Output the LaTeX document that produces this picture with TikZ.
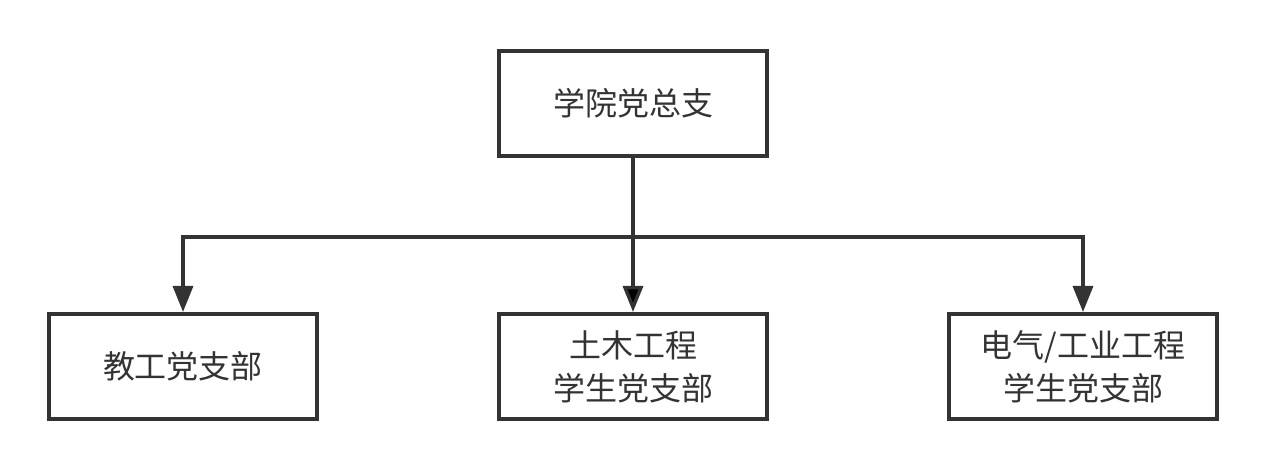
\documentclass[tikz,border=0pt]{standalone}
\usepackage{fontspec}
\newfontfamily\cjk{Noto Sans CJK SC}
\usepackage{tikz}
\usetikzlibrary{arrows.meta,positioning}
\definecolor{ink}{HTML}{333333}

\begin{document}
\begin{tikzpicture}[x=0.5pt,y=-0.5pt,node distance=131.5pt,on grid,
    unit/.style={draw=ink,line width=2pt,text=ink,minimum width=134pt,minimum height=52.5pt,
        align=center,font=\cjk\fontsize{16}{21.5}\selectfont},
    link/.style={draw=ink,line width=1.7pt,-{Triangle[length=13pt,width=10pt]}}]
            \useasboundingbox (0,0) rectangle (1266,470);
            \node[unit] (zongzhi) at (633,103.5) {学院党总支};
            \node[unit] (tumu) [below=of zongzhi] {土木工程\\学生党支部};
            \node[unit] (jiaogong) [left=225pt of tumu] {教工党支部};
            \node[unit] (dianqi) [right=225pt of tumu] {电气/工业工程\\学生党支部};
            \coordinate[below=39.5pt of zongzhi.south] (bus);
            \path[link]
                (zongzhi) edge (tumu);
            \draw[link] (bus) -| (jiaogong);
            \draw[link] (bus) -| (dianqi);
        \end{tikzpicture}
\end{document}
